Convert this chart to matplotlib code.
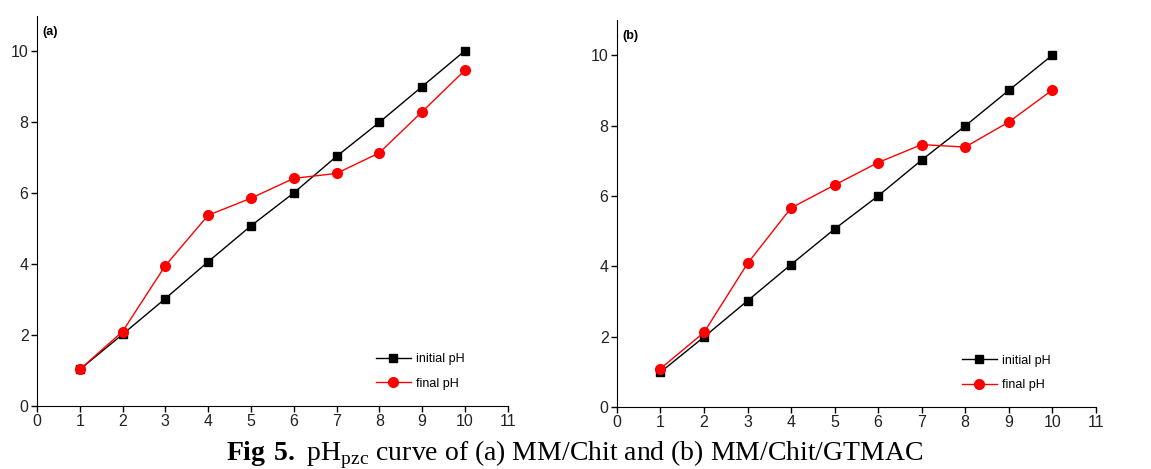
import matplotlib
matplotlib.use('Agg')
import matplotlib.pyplot as plt

# pH values
phA_init = [1.03, 2.02, 3.03, 4.07, 5.08, 6.01, 7.04, 8.0, 9.01, 10.02]
phA_final = [1.03, 2.1, 3.96, 5.38, 5.86, 6.42, 6.56, 7.14, 8.3, 9.47]
phB_init = [0.99, 1.99, 3.02, 4.05, 5.06, 6.0, 7.02, 7.99, 9.0, 10.0]
phB_final = [1.09, 2.12, 4.08, 5.66, 6.31, 6.95, 7.46, 7.39, 8.1, 9.01]
xVals = [1, 2, 3, 4, 5, 6, 7, 8, 9, 10]
xTicks = list(range(0, 12))
yTicks = [0, 2, 4, 6, 8, 10]
panelLabels = ['(a)', '(b)']
seriesNames = ['initial pH', 'final pH']

plt.rcParams['font.family'] = ['Liberation Sans', 'DejaVu Sans']
plt.rcParams['mathtext.fontset'] = 'custom'
plt.rcParams['mathtext.rm'] = 'Liberation Serif'
plt.rcParams['mathtext.bf'] = 'Liberation Serif:bold'

fig = plt.figure(figsize=(11.51, 4.69), dpi=100)
axA = fig.add_axes([0.0321, 0.1343, 0.409, 0.8316])
axB = fig.add_axes([0.536, 0.1322, 0.416, 0.825])

def drawPanel(ax, init, final, label):
    ax.plot(xVals, init, '-s', color='black', lw=1, ms=6, label=seriesNames[0])
    ax.plot(xVals, final, '-o', color='red', lw=1, ms=7, label=seriesNames[1])
    ax.set_xlim(0, 11)
    ax.set_ylim(0, 11)
    ax.set_xticks(xTicks)
    ax.set_yticks(yTicks)
    ax.spines['top'].set_visible(False)
    ax.spines['right'].set_visible(False)
    ax.tick_params(direction='out', length=4, width=1, labelsize=11.5, pad=2,
                   labelcolor='#222222')
    ax.text(0.012, 0.975, label, transform=ax.transAxes, fontsize=9,
            fontweight='bold', va='top', ha='left')
    ax.legend(loc='upper left', bbox_to_anchor=(0.72, 0.135), frameon=False,
              fontsize=9, handlelength=2.8, borderpad=0, borderaxespad=0,
              labelspacing=1.0, handletextpad=0.4)

drawPanel(axA, phA_init, phA_final, panelLabels[0])
drawPanel(axB, phB_init, phB_final, panelLabels[1])

fig.text(0.499, 0.03,
         r'$\mathbf{Fig\ 5.}$ pH$_{\mathrm{pzc}}$ curve of (a) MM/Chit and (b) MM/Chit/GTMAC',
         ha='center', va='center', fontsize=20, family='Liberation Serif')

fig.savefig('out.png', dpi=100)
